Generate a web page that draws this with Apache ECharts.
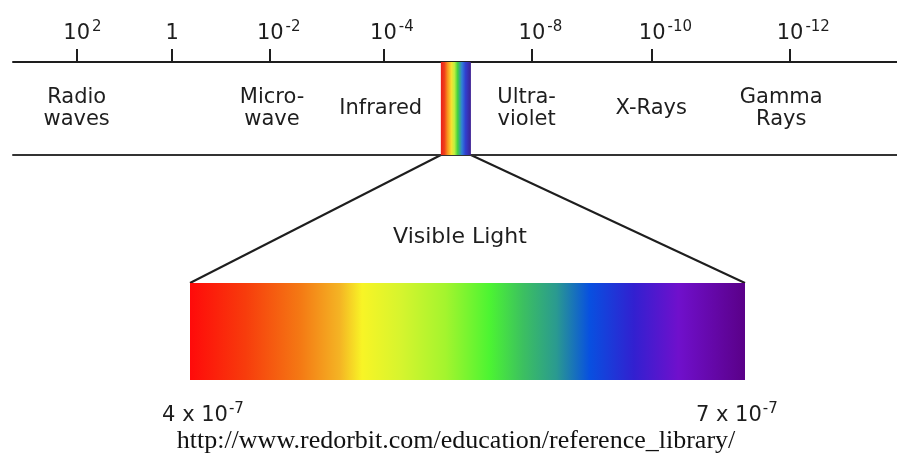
<!DOCTYPE html>
<html>
<head>
<meta charset="utf-8">
<title>Electromagnetic spectrum</title>
<script src="https://cdn.jsdelivr.net/npm/echarts@6/dist/echarts.min.js"></script>
<style>
  html, body { margin: 0; padding: 0; background: #fff; }
  #chart { width: 897px; height: 464px; }
</style>
</head>
<body>
<div id="chart"></div>
<script>
// wavelength (m) as powers of ten along the band - the drawing is not to scale,
// so positions are given as % of the band width
const tickExponents = [2, 0, -2, -4, -8, -10, -12]
const tickPositions = [7.2, 18.0, 29.1, 41.9, 58.7, 72.3, 87.9]

const bandNames = ['Radio\nwaves', 'Micro-\nwave', 'Infrared', 'Ultra-\nviolet', 'X-Rays', 'Gamma\nRays']
const bandPositions = [7.2, 29.3, 41.6, 58.1, 72.2, 86.9]

const visibleSlot = [48.4, 51.8]   // the visible strip inside the band
const visibleRange = [400, 700]    // nm, i.e. 4 x 10^-7 .. 7 x 10^-7 m
const visibleTitle = 'Visible Light'
const sourceText = 'http://www.redorbit.com/education/reference_library/'

const ink = '#1e1e1e'
const font = 'DejaVu Sans'

const barStops = [
  [0, '#ff0a0a'], [0.1, '#f73c0c'], [0.2, '#f47a14'], [0.27, '#f4b424'],
  [0.31, '#f8f426'], [0.38, '#d6f42e'], [0.46, '#a4f42e'], [0.54, '#4cf432'],
  [0.6, '#3cc060'], [0.66, '#2a9a90'], [0.72, '#0850e0'], [0.8, '#3220d0'],
  [0.88, '#7010cc'], [1, '#5a0088']
]
const slotStops = [
  [0, '#e8201a'], [0.12, '#f0401a'], [0.22, '#f8901e'], [0.35, '#f8e030'],
  [0.45, '#c0f040'], [0.56, '#40d040'], [0.7, '#3080d8'], [0.82, '#3040d0'],
  [1, '#402090']
]

function hGradient(stops) {
  return new echarts.graphic.LinearGradient(0, 0, 1, 0,
    stops.map(s => ({ offset: s[0], color: s[1] })))
}

function rectItem(stops) {
  return function (params, api) {
    const p0 = api.coord([api.value(0), 1])
    const p1 = api.coord([api.value(1), 0])
    return {
      type: 'rect',
      shape: { x: p0[0], y: p0[1], width: p1[0] - p0[0], height: p1[1] - p0[1] },
      style: { fill: hGradient(stops) }
    }
  }
}

const chart = echarts.init(document.getElementById('chart'))

const option = {
  backgroundColor: '#fff',
  animation: false,
  grid: [
    { left: 13, right: 0, top: 62, height: 93 },
    { left: 190, right: 152, top: 283, height: 97 }
  ],
  xAxis: [
    {
      gridIndex: 0, type: 'value', position: 'top', min: 0, max: 100,
      axisLine: { onZero: false, lineStyle: { color: ink, width: 2 } },
      axisTick: { show: true, inside: false, length: 13, customValues: tickPositions, lineStyle: { color: ink, width: 2 } },
      splitLine: { show: false },
      axisLabel: {
        customValues: tickPositions,
        margin: 18,
        formatter: v => {
          const e = tickExponents[tickPositions.indexOf(v)]
          if (e === 0) return '{b|1}'
          return '{h|' + e + '}{b|10}{s|' + e + '}'
        },
        rich: {
          b: { fontSize: 21, fontFamily: font, color: ink, lineHeight: 24, verticalAlign: 'bottom' },
          s: { fontSize: 15, fontFamily: font, color: ink, lineHeight: 14, verticalAlign: 'top', padding: [0, 0, 0, 2] },
          h: { fontSize: 15, fontFamily: font, color: 'transparent', lineHeight: 14, verticalAlign: 'top', padding: [0, 2, 0, 0] }
        }
      }
    },
    {
      gridIndex: 0, type: 'value', position: 'bottom', min: 0, max: 100,
      axisLine: { onZero: false, lineStyle: { color: '#333', width: 2 } },
      axisTick: { show: false }, axisLabel: { show: false }, splitLine: { show: false }
    },
    {
      gridIndex: 1, type: 'value', min: visibleRange[0], max: visibleRange[1],
      axisLine: { show: false, onZero: false }, axisTick: { show: false }, splitLine: { show: false },
      axisLabel: {
        customValues: visibleRange,
        margin: 22,
        formatter: v => v === visibleRange[0]
          ? '{l|' + (v / 100) + ' x 10}{s|-7}'
          : '{b|' + (v / 100) + ' x 10}{s|-7}{p|---}',
        rich: {
          l: { fontSize: 21, fontFamily: font, color: ink, lineHeight: 24, verticalAlign: 'bottom', padding: [0, 0, 0, 26] },
          b: { fontSize: 21, fontFamily: font, color: ink, lineHeight: 24, verticalAlign: 'bottom' },
          s: { fontSize: 15, fontFamily: font, color: ink, lineHeight: 6, verticalAlign: 'top', padding: [0, 0, 0, 1] },
          p: { fontSize: 15, fontFamily: font, color: 'transparent', lineHeight: 6, verticalAlign: 'top' }
        }
      }
    }
  ],
  yAxis: [
    { gridIndex: 0, type: 'value', min: 0, max: 1, show: false },
    { gridIndex: 1, type: 'value', min: 0, max: 1, show: false }
  ],
  series: [
    {
      type: 'scatter', xAxisIndex: 0, yAxisIndex: 0,
      symbolSize: 1, itemStyle: { color: 'transparent', opacity: 1 },
      data: bandNames.map((n, i) => ({ name: n, value: [bandPositions[i], 0.5] })),
      label: {
        show: true, position: 'inside', formatter: '{b}', opacity: 1,
        fontSize: 21, lineHeight: 22, fontFamily: font, color: ink
      }
    },
    {
      type: 'custom', xAxisIndex: 0, yAxisIndex: 0,
      encode: { x: [0, 1] },
      data: [visibleSlot],
      renderItem: rectItem(slotStops)
    },
    {
      type: 'custom', xAxisIndex: 2, yAxisIndex: 1,
      encode: { x: [0, 1] },
      data: [visibleRange],
      renderItem: rectItem(barStops)
    }
  ]
}

chart.setOption(option)

// funnel from the strip in the band down to the expanded visible bar
const sl = chart.convertToPixel({ xAxisIndex: 0, yAxisIndex: 0 }, [visibleSlot[0], 0])
const sr = chart.convertToPixel({ xAxisIndex: 0, yAxisIndex: 0 }, [visibleSlot[1], 0])
const bl = chart.convertToPixel({ xAxisIndex: 2, yAxisIndex: 1 }, [visibleRange[0], 1])
const br = chart.convertToPixel({ xAxisIndex: 2, yAxisIndex: 1 }, [visibleRange[1], 1])

chart.setOption({
  graphic: [
    { type: 'line', shape: { x1: sl[0], y1: sl[1], x2: bl[0], y2: bl[1] }, style: { stroke: ink, lineWidth: 2 } },
    { type: 'line', shape: { x1: sr[0], y1: sr[1], x2: br[0], y2: br[1] }, style: { stroke: ink, lineWidth: 2 } },
    {
      type: 'text', x: 460, y: 237,
      style: { text: visibleTitle, font: '22px "DejaVu Sans"', fill: ink, align: 'center', verticalAlign: 'middle' }
    },
    {
      type: 'text', x: 456, y: 441,
      style: { text: sourceText, font: '26px "Liberation Serif"', fill: '#111', align: 'center', verticalAlign: 'middle' }
    }
  ]
})
</script>
</body>
</html>
